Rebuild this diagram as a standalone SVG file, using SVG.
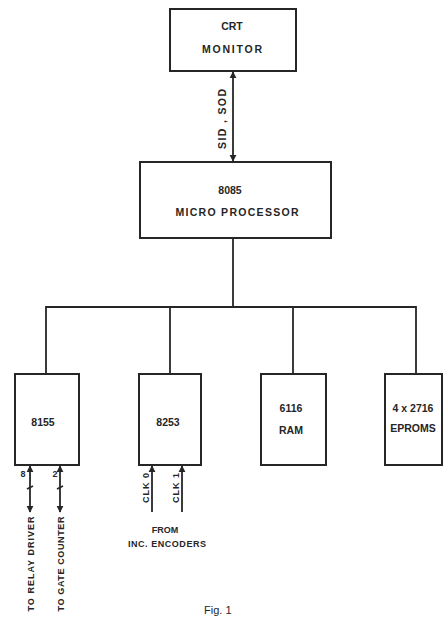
<svg xmlns="http://www.w3.org/2000/svg" width="446" height="617" viewBox="0 0 446 617">
<style>
.box{fill:none;stroke:#262626;stroke-width:2}
.ln{fill:none;stroke:#262626;stroke-width:1.8}
.t{font-family:"Liberation Sans",Arial,sans-serif;font-size:10.5px;font-weight:bold;fill:#262626;text-anchor:middle}
.s{font-size:9px}
</style>
<defs>
<marker id="ah" viewBox="0 0 10 10" refX="9" refY="5" markerWidth="4" markerHeight="4" orient="auto-start-reverse" markerUnits="strokeWidth">
<path d="M0,0 L10,5 L0,10 z" fill="#262626"/>
</marker>
</defs>
<rect width="446" height="617" fill="#fff"/>
<g id="connectors">
<line class="ln" x1="233" y1="72" x2="233" y2="161" marker-start="url(#ah)" marker-end="url(#ah)"/>
<line class="ln" x1="233" y1="238" x2="233" y2="307"/>
<polyline class="ln" points="46,374 46,307 416,307 416,374"/>
<line class="ln" x1="170" y1="307" x2="170" y2="374"/>
<line class="ln" x1="293" y1="307" x2="293" y2="374"/>
<line class="ln" x1="30" y1="466" x2="30" y2="512" marker-start="url(#ah)" marker-end="url(#ah)"/>
<line class="ln" x1="60" y1="466" x2="60" y2="512" marker-start="url(#ah)" marker-end="url(#ah)"/>
<line class="ln" x1="27" y1="489" x2="33" y2="486"/>
<line class="ln" x1="57" y1="489" x2="63" y2="486"/>
<line class="ln" x1="152" y1="512" x2="152" y2="466" marker-end="url(#ah)"/>
<line class="ln" x1="182" y1="512" x2="182" y2="466" marker-end="url(#ah)"/>
<text class="t" transform="translate(226,119) rotate(-90)" textLength="60">SID , SOD</text>
<text class="t s" x="23" y="477">8</text>
<text class="t s" x="55" y="477">2</text>
<text class="t s" transform="translate(149,488) rotate(-90)" textLength="30">CLK 0</text>
<text class="t s" transform="translate(179,488) rotate(-90)" textLength="30">CLK 1</text>
<text class="t s" transform="translate(34,564) rotate(-90)" textLength="95">TO RELAY DRIVER</text>
<text class="t s" transform="translate(64,564) rotate(-90)" textLength="95">TO GATE COUNTER</text>
<text class="t s" x="165" y="533">FROM</text>
<text class="t s" x="167" y="547" textLength="78">INC. ENCODERS</text>
</g>
<g id="crt">
<rect class="box" x="170" y="9" width="126" height="62"/>
<text class="t" x="232" y="30">CRT</text>
<text class="t" x="232" y="53" textLength="60">MONITOR</text>
</g>
<g id="cpu">
<rect class="box" x="140" y="162" width="191" height="76"/>
<text class="t" x="230" y="194">8085</text>
<text class="t" x="237" y="216" textLength="123">MICRO PROCESSOR</text>
</g>
<g id="n8155">
<rect class="box" x="15" y="374" width="64" height="91"/>
<text class="t" x="43" y="426">8155</text>
</g>
<g id="n8253">
<rect class="box" x="139" y="374" width="62" height="91"/>
<text class="t" x="168" y="426">8253</text>
</g>
<g id="ram">
<rect class="box" x="261" y="374" width="65" height="91"/>
<text class="t" x="291" y="412">6116</text>
<text class="t" x="291" y="434">RAM</text>
</g>
<g id="eprom">
<rect class="box" x="385" y="374" width="57" height="91"/>
<text class="t" x="413" y="412">4 x 2716</text>
<text class="t" x="413" y="432">EPROMS</text>
</g>
<text x="204" y="614" font-family="Liberation Sans, Arial, sans-serif" font-size="11" fill="#262626">Fig. 1</text>
</svg>
